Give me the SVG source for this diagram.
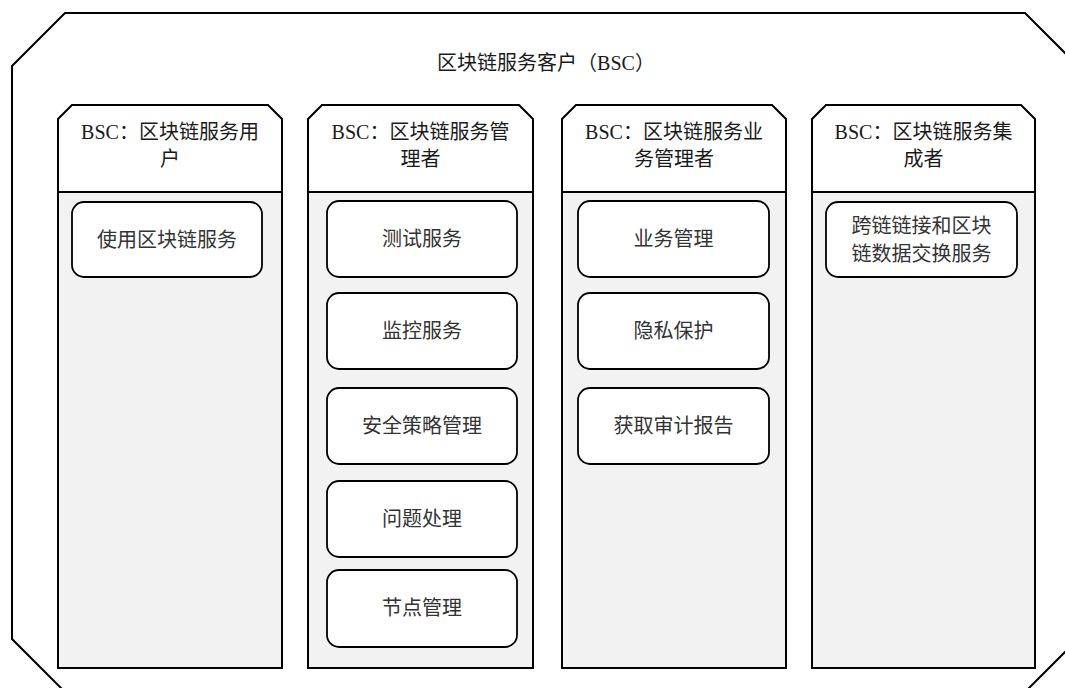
<svg xmlns="http://www.w3.org/2000/svg" width="1065" height="688" viewBox="0 0 1065 688">
<style>
.outer{fill:#fff;stroke:#000;stroke-width:2}
.hdr{fill:#fff;stroke:#000;stroke-width:2}
.body{fill:#f2f2f2;stroke:#000;stroke-width:2}
.box{fill:#fff;stroke:#000;stroke-width:1.8}
text{font-family:"Liberation Serif","Noto Sans CJK SC",serif;font-size:20px;text-anchor:middle;fill:#1a1a1a}
.bt{fill:#333}
</style>
<rect width="1065" height="688" fill="#fff"/>
<g id="bsc">
<path class="outer" d="M12,66 L65,13 L1025,13 L1078,66 L1078,639 L1025,692 L65,692 L12,639 Z"/>
<text x="546" y="70">区块链服务客户（BSC）</text>
</g>
<g id="col-user">
<rect class="body" x="58" y="192" width="224" height="476"/>
<path class="hdr" d="M58,119 L72,105 L268,105 L282,119 L282,192 L58,192 Z"/>
<text x="170" y="139">BSC：区块链服务用</text>
<text x="170" y="166">户</text>
</g>
<g id="col-admin">
<rect class="body" x="308" y="192" width="225" height="476"/>
<path class="hdr" d="M308,119 L322,105 L519,105 L533,119 L533,192 L308,192 Z"/>
<text x="420.5" y="139">BSC：区块链服务管</text>
<text x="420.5" y="166">理者</text>
</g>
<g id="col-biz">
<rect class="body" x="562" y="192" width="224" height="476"/>
<path class="hdr" d="M562,119 L576,105 L772,105 L786,119 L786,192 L562,192 Z"/>
<text x="674" y="139">BSC：区块链服务业</text>
<text x="674" y="166">务管理者</text>
</g>
<g id="col-int">
<rect class="body" x="812" y="192" width="223" height="476"/>
<path class="hdr" d="M812,119 L826,105 L1021,105 L1035,119 L1035,192 L812,192 Z"/>
<text x="923.5" y="139">BSC：区块链服务集</text>
<text x="923.5" y="166">成者</text>
</g>
<g id="n-use">
<rect class="box" x="72" y="202" width="190" height="75" rx="12"/>
<text class="bt" x="167" y="247">使用区块链服务</text>
</g>
<g id="n-test">
<rect class="box" x="327" y="201" width="190" height="76" rx="12"/>
<text class="bt" x="422" y="246">测试服务</text>
</g>
<g id="n-monitor">
<rect class="box" x="327" y="293" width="190" height="76" rx="12"/>
<text class="bt" x="422" y="338">监控服务</text>
</g>
<g id="n-security">
<rect class="box" x="327" y="388" width="190" height="76" rx="12"/>
<text class="bt" x="422" y="433">安全策略管理</text>
</g>
<g id="n-issue">
<rect class="box" x="327" y="481" width="190" height="76" rx="12"/>
<text class="bt" x="422" y="526">问题处理</text>
</g>
<g id="n-node">
<rect class="box" x="327" y="570" width="190" height="77" rx="12"/>
<text class="bt" x="422" y="615">节点管理</text>
</g>
<g id="n-bizmgmt">
<rect class="box" x="578" y="201" width="191" height="76" rx="12"/>
<text class="bt" x="673.5" y="246">业务管理</text>
</g>
<g id="n-privacy">
<rect class="box" x="578" y="293" width="191" height="76" rx="12"/>
<text class="bt" x="673.5" y="338">隐私保护</text>
</g>
<g id="n-audit">
<rect class="box" x="578" y="388" width="191" height="76" rx="12"/>
<text class="bt" x="673.5" y="433">获取审计报告</text>
</g>
<g id="n-cross">
<rect class="box" x="826" y="202" width="191" height="75" rx="12"/>
<text class="bt" x="921.5" y="233">跨链链接和区块</text>
<text class="bt" x="921.5" y="261">链数据交换服务</text>
</g>
<g id="connectors"></g>
</svg>
